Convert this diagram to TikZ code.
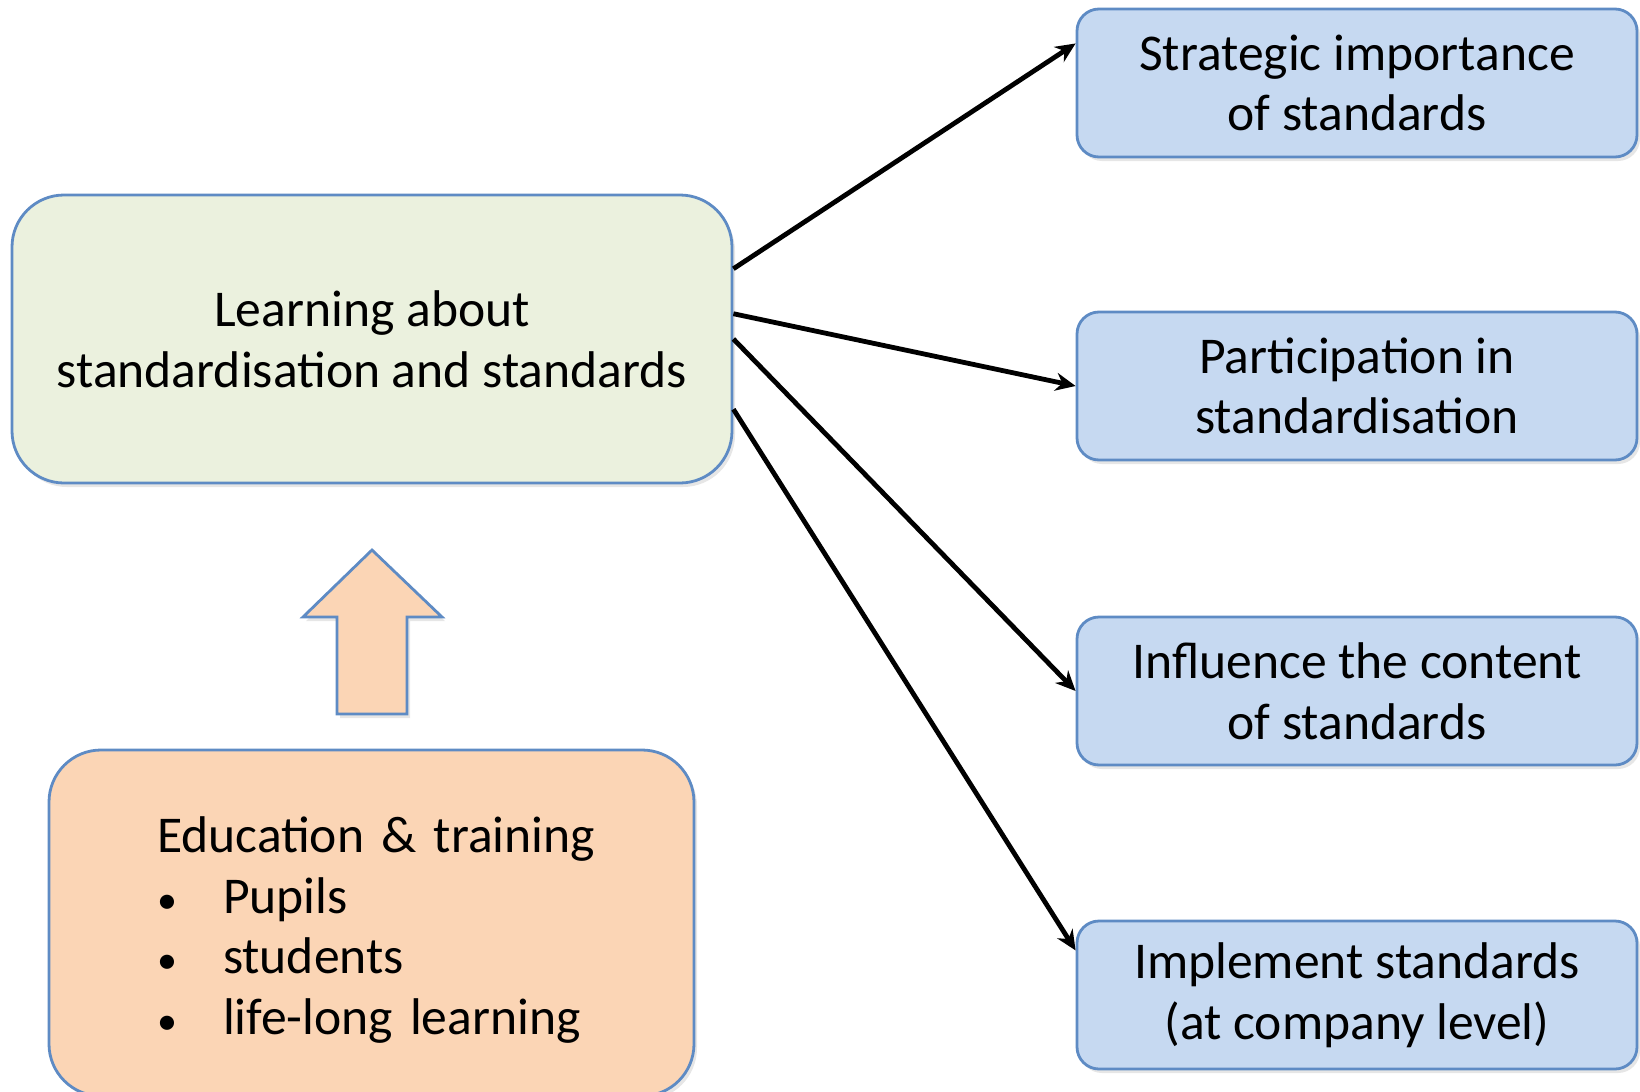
\documentclass[tikz,border=0pt]{standalone}
\usepackage{fontspec}
\setmainfont{Carlito}
\usetikzlibrary{arrows.meta,positioning,calc,shadows}
\definecolor{boxline}{RGB}{94,139,196}
\definecolor{greenfill}{RGB}{235,241,222}
\definecolor{bluefill}{RGB}{198,217,241}
\definecolor{orangefill}{RGB}{251,213,181}
\newcommand{\edubullet}{\makebox[33pt][l]{\fontsize{20}{20}\selectfont\textbullet}}

\begin{document}
\begin{tikzpicture}[x=0.5pt, y=-0.5pt,
    every node/.style={font=\fontsize{25.8}{30.3}\selectfont},
    box/.style={draw=boxline, line width=1.4pt, align=center, inner sep=0pt,
        drop shadow={shadow xshift=1.5pt, shadow yshift=-2pt, opacity=.2}},
    learnbox/.style={box, fill=greenfill, rounded corners=26pt,
        minimum width=360pt, minimum height=144pt},
    goalbox/.style={box, fill=bluefill, rounded corners=11pt,
        minimum width=280pt, minimum height=74pt},
    edubox/.style={box, fill=orangefill, rounded corners=26pt, align=left,
        inner xsep=54pt, text width=214.5pt, minimum height=173pt},
    link/.style={-{Stealth[length=10pt, width=9pt]}, line width=2.4pt},
    uparrow/.style={draw=boxline, line width=1.4pt, fill=orangefill,
        drop shadow={shadow xshift=1.5pt, shadow yshift=-2pt, opacity=.2}}]
    \useasboundingbox (0,0) rectangle (1640,1092);

    % Boxes
    \node [learnbox] (learn) at (372,339)
        {Learning about\\standardisation and standards};
    \node [goalbox] (strategic) at (1357,83) {Strategic importance\\of standards};
    \node [goalbox] (participate) at (1357,386) {Participation in\\standardisation};
    \node [goalbox] (influence) at (1357,691) {Influence the content\\of standards};
    \node [goalbox] (implement) at (1357,995) {Implement standards\\(at company level)};
    \node [edubox] (edu) at (371.5,923)
        {\mbox{\rule{0pt}{25pt}Education \& training}\\
         \mbox{\edubullet Pupils}\\
         \mbox{\edubullet students}\\
         \mbox{\edubullet life-long learning}};

    % Block arrow
    \draw [uparrow] (372,550) -- (442,617) -- (407,617) -- (407,714)
        -- (337,714) -- (337,617) -- (303,617) -- cycle;

    % Links
    \draw [link] (learn.11) -- (strategic.172.1);
    \draw [link] (learn.4) -- (participate.west);
    \draw [link] (learn.0) -- (influence.west);
    \draw [link] (learn.-11.6) -- (implement.171.6);
\end{tikzpicture}
\end{document}
